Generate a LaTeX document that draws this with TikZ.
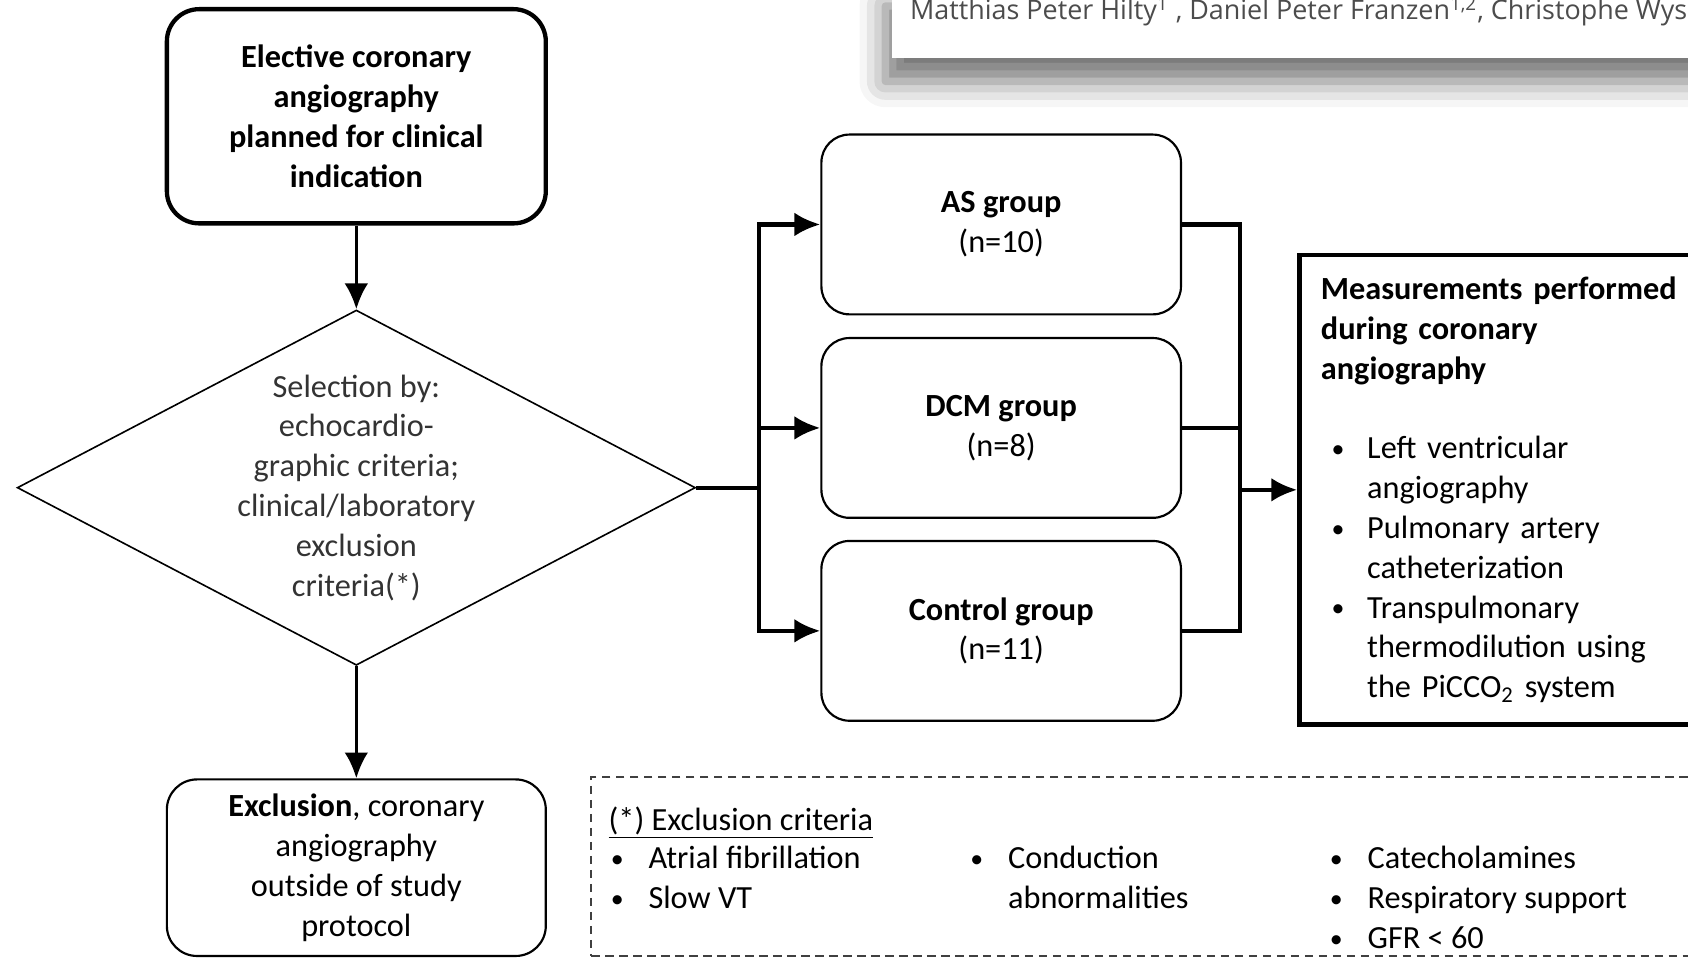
\documentclass[tikz,border=0pt]{standalone}
\usepackage{fontspec}
\setmainfont{Carlito}
\newfontfamily\authfont{Open Sans}
\usepackage{tikz}
\usetikzlibrary{positioning,arrows.meta,shapes.geometric,shadows.blur}
\tikzset{>={Latex[length=12pt,width=11pt]}}

\newcommand{\bulletIt}[1][17.5pt]{\makebox[#1][l]{\raisebox{0.6pt}{\scalebox{0.8}{\textbullet}}}}
\newcommand{\indentIt}[1][17.5pt]{\hspace*{#1}}

\begin{document}
\begin{tikzpicture}[x=0.5pt,y=-0.5pt,
    every node/.style={font=\fontsize{15}{18.5}\selectfont},
    startbox/.style={draw, line width=2pt, rounded corners=15pt, minimum width=176pt, minimum height=99.5pt, inner sep=0pt, align=center},
    exclbox/.style={draw, line width=1pt, rounded corners=14pt, minimum width=176pt, minimum height=82pt, inner sep=0pt, align=center},
    groupbox/.style={draw, line width=1pt, rounded corners=13pt, minimum width=167pt, minimum height=83.5pt, inner sep=0pt, align=center},
    decision/.style={draw, diamond, aspect=1.91, line width=0.75pt, minimum width=315pt, minimum height=165pt, inner sep=0pt, align=center, text=black!80},
    measbox/.style={draw, line width=2pt, text width=180pt, align=left, inner sep=10pt, minimum height=215pt},
    critbox/.style={draw=black!75, dashed, dash pattern=on 4pt off 2.5pt, line width=1pt, minimum width=600pt, minimum height=83pt},
    flow/.style={line width=2pt},
    itemtext/.style={anchor=base west, align=left, inner sep=0pt}]

      \clip (0,0) rectangle (1568,889);

      % overlay from the page above
      \node[fill=white, minimum width=400pt, minimum height=35pt, anchor=south west,
            blur shadow={shadow xshift=-3pt, shadow yshift=-11pt, shadow blur radius=12pt, shadow opacity=55}] (authBox) at (828,54) {};
      \node[anchor=base west, inner sep=0pt, font=\authfont\fontsize{12.5}{14}\selectfont, text=black!70] (authTxt) at (845,18)
            {Matthias Peter Hilty\textsuperscript{1} , Daniel Peter Franzen\textsuperscript{1,2}, Christophe Wys};

      \node[startbox] (electN)  at (331,108) {\textbf{Elective coronary}\\\textbf{angiography}\\\textbf{planned for clinical}\\\textbf{indication}};
      \node[decision] (selectN) at (331,453) {Selection by:\\echocardio-\\graphic criteria;\\clinical/laboratory\\exclusion\\criteria(*)};
      \node[exclbox]  (excluN)  at (331,806) {\textbf{Exclusion}, coronary\\angiography\\outside of study\\protocol};

      \node[groupbox] (asN)     at (930,208.5) {\textbf{AS group}\\(n=10)};
      \node[groupbox] (dcmN)    at (930,397.5) {\textbf{DCM group}\\(n=8)};
      \node[groupbox] (ctrlN)   at (930,586)   {\textbf{Control group}\\(n=11)};

      \node[measbox, anchor=west] (measN) at (1205,455)
            {\textbf{Measurements performed}\\\textbf{during coronary}\\\textbf{angiography}\\[18.5pt]
             \hspace*{5pt}\bulletIt[16.5pt]Left ventricular\\\indentIt[21.5pt]angiography\\
             \hspace*{5pt}\bulletIt[16.5pt]Pulmonary artery\\\indentIt[21.5pt]catheterization\\
             \hspace*{5pt}\bulletIt[16.5pt]Transpulmonary\\\indentIt[21.5pt]thermodilution using\\
             \indentIt[21.5pt]the PiCCO\textsubscript{2} system};

      \node[critbox, anchor=north west] (critN) at (548,721) {};
      \node[itemtext] (critHead) at (565,771) {\underline{(*) Exclusion criteria}};
      \node[itemtext] (critA)    at (567,844) {\bulletIt Atrial fibrillation\\\bulletIt Slow VT};
      \node[itemtext] (critB)    at (901,844) {\bulletIt Conduction\\\indentIt abnormalities};
      \node[itemtext] (critC)    at (1235,881) {\bulletIt Catecholamines\\\bulletIt Respiratory support\\\bulletIt GFR < 60};

      \coordinate (splitL) at (705,453);
      \coordinate (splitR) at (1152,455);

      \draw [->, line width=1.5pt] (electN.south) -- (selectN.north);
      \draw [->, line width=1.5pt] (selectN.south) -- (excluN.north);

      \draw [flow] (selectN.east) -- (splitL);
      \draw [->, flow] (splitL) |- (asN.west);
      \draw [->, flow] (splitL) |- (dcmN.west);
      \draw [->, flow] (splitL) |- (ctrlN.west);

      \draw [flow] (asN.east)   -| (splitR);
      \draw [flow] (dcmN.east)  -| (splitR);
      \draw [flow] (ctrlN.east) -| (splitR);
      \draw [->, flow] (splitR) -- (measN.west);
    \end{tikzpicture}
\end{document}
